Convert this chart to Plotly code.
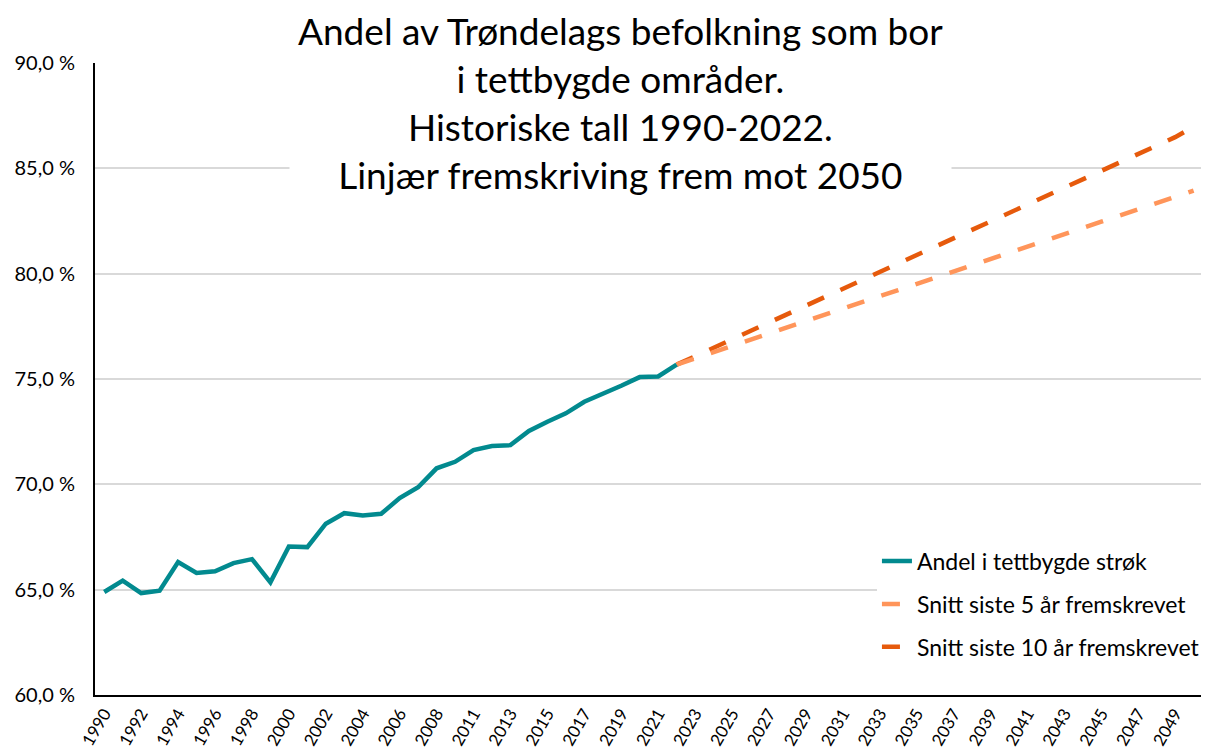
import plotly.graph_objects as go

# Categories (note: 2010 is not in the series)
years = [str(y) for y in range(1990, 2010)] + [str(y) for y in range(2011, 2051)]

hist_years = [str(y) for y in range(1990, 2010)] + [str(y) for y in range(2011, 2023)]
hist_values = [64.89, 65.43, 64.84, 64.95, 66.31, 65.79, 65.87, 66.26, 66.45, 65.35,
               67.05, 67.02, 68.13, 68.63, 68.52, 68.60, 69.35, 69.86, 70.76, 71.07,
               71.63, 71.82, 71.86, 72.53, 72.97, 73.37, 73.92, 74.29, 74.68, 75.09,
               75.12, 75.68]

proj_years = [str(y) for y in range(2022, 2051)]
proj5_values = [75.68, 75.98, 76.27, 76.57, 76.86, 77.16, 77.45, 77.75, 78.04, 78.34,
                78.63, 78.93, 79.22, 79.52, 79.81, 80.11, 80.40, 80.70, 80.99, 81.29,
                81.58, 81.88, 82.17, 82.47, 82.76, 83.06, 83.35, 83.65, 83.94]
proj10_values = [75.68, 76.08, 76.48, 76.88, 77.28, 77.68, 78.08, 78.48, 78.88, 79.28,
                 79.68, 80.08, 80.48, 80.88, 81.28, 81.68, 82.08, 82.48, 82.88, 83.28,
                 83.68, 84.08, 84.48, 84.88, 85.28, 85.68, 86.08, 86.48, 86.98]

y_ticks = [60, 65, 70, 75, 80, 85, 90]
y_ticktext = ["60,0 %", "65,0 %", "70,0 %", "75,0 %", "80,0 %", "85,0 %", "90,0 %"]
x_tickvals = years[::2]

series_names = ["Andel i tettbygde strøk", "Snitt siste 5 år fremskrevet",
                "Snitt siste 10 år fremskrevet"]
title_text = ("Andel av Trøndelags befolkning som bor<br>i tettbygde områder.<br>"
              "Historiske tall 1990-2022.<br>Linjær fremskriving frem mot 2050")

FONT = "Lato"
TEAL = "#028A8F"
LIGHT = "#FF955A"
DARK = "#E65A0C"

fig = go.Figure()
fig.add_trace(go.Scatter(x=proj_years, y=proj10_values, mode="lines",
                         name=series_names[2], legendgroup="c", legendrank=3,
                         line=dict(color=DARK, width=4.5, dash="18px,18px")))
fig.add_trace(go.Scatter(x=proj_years, y=proj5_values, mode="lines",
                         name=series_names[1], legendgroup="b", legendrank=2,
                         line=dict(color=LIGHT, width=4.5, dash="18px,18px")))
fig.add_trace(go.Scatter(x=hist_years, y=hist_values, mode="lines",
                         name=series_names[0], legendgroup="a", legendrank=1,
                         line=dict(color=TEAL, width=4.5)))

fig.update_layout(
    width=1205, height=756,
    margin=dict(l=95, r=0, t=63, b=61),
    paper_bgcolor="white", plot_bgcolor="white",
    font=dict(family=FONT, color="#000000"),
    showlegend=True,
    legend=dict(x=0.707, y=0.246, xanchor="left", yanchor="top",
                bgcolor="white", font=dict(size=23, family=FONT),
                tracegroupgap=10, traceorder="grouped"),
    xaxis=dict(type="category", categoryorder="array", categoryarray=years,
               range=[-0.5, 59.4], tickmode="array", tickvals=x_tickvals,
               tickangle=-60, tickfont=dict(size=17, family=FONT),
               showgrid=False, showline=True, linecolor="black", linewidth=2,
               ticks="", zeroline=False, automargin=False),
    yaxis=dict(range=[60, 90], tickmode="array", tickvals=y_ticks,
               ticktext=y_ticktext, tickfont=dict(size=20, family=FONT),
               showgrid=True, gridcolor="#D9D9D9", gridwidth=1.5,
               showline=True, linecolor="black", linewidth=2,
               ticks="", ticklen=0, ticklabelstandoff=14, zeroline=False,
               automargin=False),
)

fig.add_annotation(text=title_text, xref="paper", yref="paper",
                   x=0.4748, y=0.937, xanchor="center", yanchor="middle",
                   showarrow=False, align="center", bgcolor="white",
                   borderpad=8, font=dict(size=37, family=FONT, color="black"))

fig.write_html("out.html", config={"displayModeBar": False},
               post_script="document.body.style.margin='0';")
